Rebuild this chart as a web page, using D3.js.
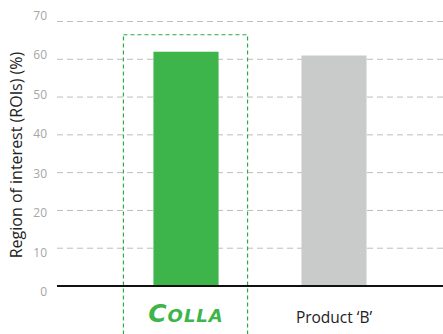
<!DOCTYPE html>
<html>
<head>
<meta charset="utf-8">
<script src="https://cdn.jsdelivr.net/npm/d3@7"></script>
<style>
  body { margin: 0; background: #fff; }
  svg { display: block; font-family: "Open Sans", sans-serif; }
</style>
</head>
<body>
<svg id="chart" width="443" height="334"></svg>
<script>
// data
const categories = ["COLLA", "Product \u2018B\u2019"];
const values = [62, 61];
const barColors = ["#3db54b", "#c9cbcb"];
const yTicks = [0, 10, 20, 30, 40, 50, 60, 70];
const highlightTop = 66.5;

const svg = d3.select("#chart");

const y = d3.scaleLinear().domain([0, 70]).range([286, 21.5]);
// tick labels sit on a slightly wider spread than the grid
const yLabel = d3.scaleLinear().domain([0, 70]).range([292, 15.7]);
const x = d3.scaleBand().domain(categories).range([112, 408])
  .paddingInner(0.56).paddingOuter(0.28);

// dashed grid
svg.append("g")
  .selectAll("line")
  .data(yTicks.filter(d => d > 0))
  .enter().append("line")
  .attr("x1", 57).attr("x2", 443)
  .attr("y1", d => y(d)).attr("y2", d => y(d))
  .attr("stroke", "#bdbdbd")
  .attr("stroke-width", 1)
  .attr("stroke-dasharray", "6,4");

// tick labels
svg.append("g")
  .selectAll("text")
  .data(yTicks)
  .enter().append("text")
  .attr("x", 47)
  .attr("y", d => yLabel(d))
  .attr("dy", "0.35em")
  .attr("text-anchor", "end")
  .attr("font-size", 12)
  .attr("fill", "#a6a6a6")
  .text(d => d);

// axis title
svg.append("text")
  .attr("transform", "translate(22,155) rotate(-90)")
  .attr("text-anchor", "middle")
  .attr("font-size", 16)
  .attr("fill", "#222")
  .text("Region of interest (ROIs) (%)");

// bars
svg.append("g")
  .selectAll("rect")
  .data(values)
  .enter().append("rect")
  .attr("x", (d, i) => x(categories[i]))
  .attr("y", d => y(d))
  .attr("width", x.bandwidth())
  .attr("height", d => y(0) - y(d))
  .attr("fill", (d, i) => barColors[i]);

// highlight box around first bar
svg.append("rect")
  .attr("x", x(categories[0]) - 30)
  .attr("y", y(highlightTop))
  .attr("width", x.bandwidth() + 59)
  .attr("height", 334 - y(highlightTop) + 10)
  .attr("fill", "none")
  .attr("stroke", "#2eaa44")
  .attr("stroke-width", 1.2)
  .attr("stroke-dasharray", "4,3");

// baseline
svg.append("line")
  .attr("x1", 57).attr("x2", 443)
  .attr("y1", y(0)).attr("y2", y(0))
  .attr("stroke", "#111")
  .attr("stroke-width", 2);

// category labels
const logo = svg.append("text")
  .attr("x", x(categories[0]) + x.bandwidth() / 2)
  .attr("y", 322)
  .attr("text-anchor", "middle")
  .attr("font-family", "DejaVu Sans, sans-serif")
  .attr("font-weight", "bold")
  .attr("font-style", "italic")
  .attr("fill", "#3db54b")
  .attr("letter-spacing", 1);
logo.append("tspan").attr("font-size", 25).text("C");
logo.append("tspan").attr("font-size", 18).text("OLLA");

svg.append("text")
  .attr("x", x(categories[1]) + x.bandwidth() / 2)
  .attr("y", 323)
  .attr("text-anchor", "middle")
  .attr("font-size", 15.5)
  .attr("fill", "#222")
  .text(categories[1]);
</script>
</body>
</html>
